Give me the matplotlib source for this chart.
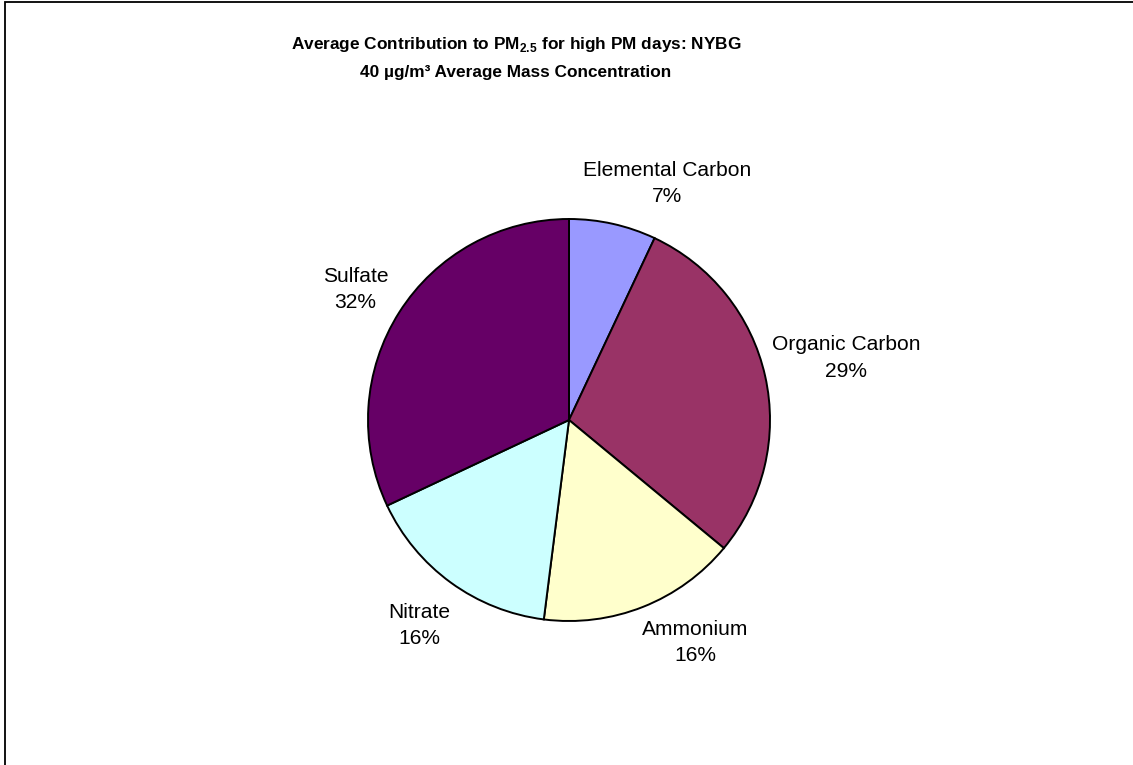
import matplotlib.pyplot as plt
import numpy as np
from matplotlib.patches import Rectangle

# ================= DATA =================
components = ['Elemental Carbon', 'Organic Carbon', 'Ammonium', 'Nitrate', 'Sulfate']
shares = [7, 29, 16, 16, 32]
colors = ['#9999FF', '#993366', '#FFFFCC', '#CCFFFF', '#660066']

title_1 = 'Average Contribution to PM$_{\\mathregular{2.5}}$ for high PM days: NYBG'
title_2 = '40 µg/m³ Average Mass Concentration'

plt.rcParams['font.family'] = ['Liberation Sans', 'DejaVu Sans']
plt.rcParams['mathtext.fontset'] = 'custom'
plt.rcParams['mathtext.rm'] = 'Liberation Sans:bold'

# ================= FIGURE =================
W, H = 1133, 765
fig = plt.figure(figsize=(W / 100, H / 100), dpi=100)

# pie centre / radius in pixels
cx, cy, half = 569, 420, 300
ax = fig.add_axes([(cx - half) / W, (H - cy - half) / H, 2 * half / W, 2 * half / H])

wedges, _ = ax.pie(shares, colors=colors, startangle=90, counterclock=False,
                   radius=1.005,
                   wedgeprops=dict(edgecolor='black', linewidth=1.4))

# pie() resets the limits, so fix them afterwards (1 unit = 200 px)
ax.set_xlim(-1.5, 1.5)
ax.set_ylim(-1.5, 1.5)
ax.axis('off')

# label placement: radial distance and angle nudge per slice
label_dist = [1.28, 1.42, 1.28, 1.27, 1.25]
angle_nudge = [-10, 0, 8, 0, 1]

for w, name, val, d, dn in zip(wedges, components, shares, label_dist, angle_nudge):
    mid = np.deg2rad((w.theta1 + w.theta2) / 2 + dn)
    ax.text(d * np.cos(mid), d * np.sin(mid), f'{name}\n{val}%',
            ha='center', va='center', multialignment='center',
            fontsize=15.1, linespacing=1.5)

# ================= TITLE =================
title_x = 516 / W
fig.text(title_x, 1 - 45 / H, title_1, ha='center', va='center',
         fontsize=12.4, fontweight='bold')
fig.text(title_x, 1 - 72 / H, title_2, ha='center', va='center',
         fontsize=12.4, fontweight='bold')

# chart area border (only left and top edges fall inside the image)
fig.patches.append(Rectangle((4.5 / W, -0.1), 1.2, 1.1 - 2.5 / H,
                             transform=fig.transFigure, fill=False,
                             edgecolor='black', linewidth=1.3))

fig.savefig('out.png', dpi=100)
